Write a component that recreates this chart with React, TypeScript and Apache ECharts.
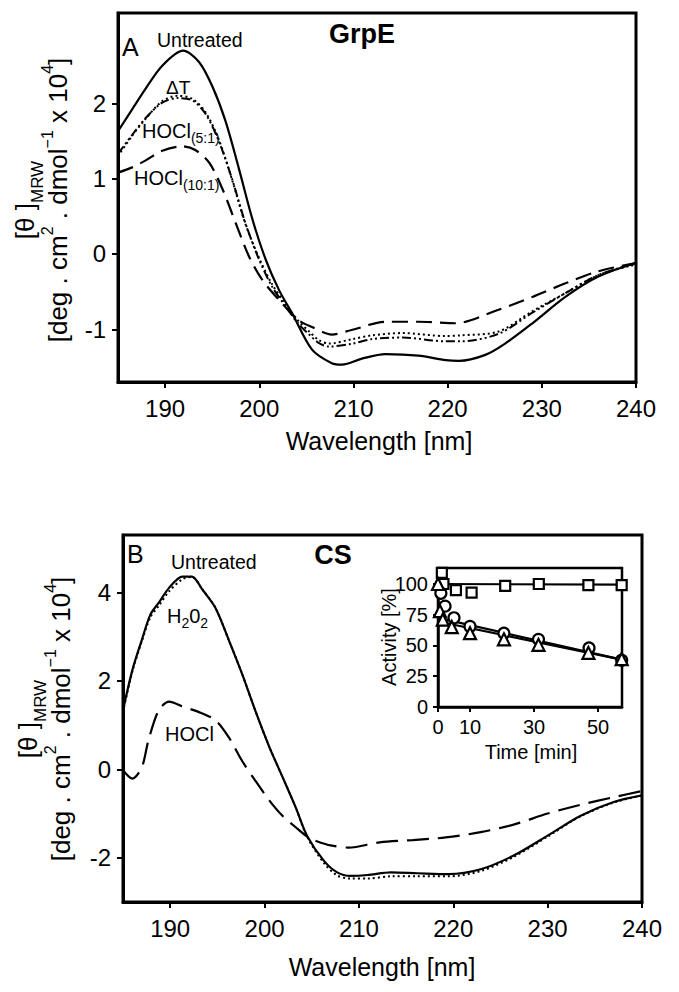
import React, { useEffect, useRef } from 'react';
import * as echarts from 'echarts';

const FONT = '"Liberation Sans", Arial, Helvetica, sans-serif';

// ---------- Panel A (GrpE) ----------
const aUntreatedX = [185, 186.5, 187.9, 189.7, 191.9, 193.6, 195.0, 196.4, 197.8, 199.3, 200.7, 202.1, 203.5, 205.6, 207.7, 208.8, 210.9, 213.4, 216.9, 219.8, 221.2, 224.0, 226.1, 229.0, 232.5, 236.0, 240];
const aUntreatedY = [1.63, 1.92, 2.19, 2.50, 2.70, 2.55, 2.23, 1.77, 1.15, 0.45, -0.08, -0.48, -0.79, -1.27, -1.45, -1.47, -1.39, -1.33, -1.35, -1.41, -1.42, -1.34, -1.19, -0.92, -0.57, -0.30, -0.12];

const aMidX = [185, 186.5, 187.9, 189.7, 191.3, 192.9, 194.3, 195.7, 197.1, 198.5, 199.9, 201.3, 202.7, 204.1, 205.3, 206.3, 207.4, 209.9, 212.0, 215.2, 219.8, 221.4, 225.4, 229.0, 232.5, 236.0, 240];
const aDeltaTY = [1.30, 1.57, 1.79, 2.03, 2.10, 2.06, 1.88, 1.52, 0.99, 0.41, -0.03, -0.39, -0.65, -0.88, -1.03, -1.14, -1.19, -1.13, -1.08, -1.05, -1.09, -1.08, -1.03, -0.76, -0.52, -0.28, -0.14];
const aHocl5Y = [1.33, 1.58, 1.80, 2.01, 2.07, 2.04, 1.86, 1.50, 1.00, 0.42, -0.05, -0.42, -0.68, -0.92, -1.07, -1.18, -1.23, -1.19, -1.13, -1.11, -1.16, -1.16, -1.06, -0.78, -0.52, -0.28, -0.12];

const aHocl10X = [185, 186.5, 187.9, 189.7, 191.8, 193.2, 194.7, 196.1, 197.5, 198.9, 200.3, 202.1, 204.2, 205.6, 207.7, 209.8, 213.4, 216.9, 220.8, 225.4, 229.0, 232.5, 236.0, 240];
const aHocl10Y = [1.08, 1.15, 1.24, 1.37, 1.43, 1.38, 1.21, 0.86, 0.41, -0.03, -0.34, -0.61, -0.88, -0.97, -1.07, -1.01, -0.90, -0.90, -0.92, -0.74, -0.57, -0.39, -0.23, -0.12];

// ---------- Panel B (CS) ----------
const bUntreatedX = [185, 186.0, 187.0, 187.9, 188.8, 189.9, 191.3, 192.3, 193.4, 194.8, 196.2, 197.6, 199.0, 200.5, 201.9, 203.3, 204.5, 206.3, 207.7, 209.1, 210.9, 213.4, 216.2, 219.5, 222.9, 226.4, 230.0, 233.5, 237.0, 240];
const bUntreatedY = [1.34, 2.25, 2.93, 3.50, 3.77, 4.11, 4.36, 4.36, 4.07, 3.65, 2.93, 2.17, 1.34, 0.51, -0.17, -0.86, -1.50, -2.07, -2.33, -2.41, -2.39, -2.33, -2.35, -2.37, -2.26, -1.95, -1.50, -1.05, -0.74, -0.59];
const bH2O2Y = [1.30, 2.22, 2.90, 3.44, 3.70, 4.03, 4.30, 4.35, 4.07, 3.65, 2.93, 2.17, 1.34, 0.51, -0.17, -0.86, -1.52, -2.12, -2.40, -2.47, -2.47, -2.42, -2.42, -2.42, -2.30, -1.98, -1.52, -1.06, -0.75, -0.59];

const bHoclX = [185, 186.0, 187.0, 187.7, 188.8, 189.9, 191.3, 193.0, 194.8, 196.2, 197.6, 199.0, 200.5, 201.9, 203.3, 204.7, 205.6, 207.0, 208.9, 212.2, 215.7, 219.2, 222.9, 226.4, 230.0, 233.5, 237.0, 240];
const bHoclY = [-0.02, -0.21, 0.05, 0.66, 1.34, 1.53, 1.42, 1.30, 1.11, 0.73, 0.20, -0.25, -0.70, -1.05, -1.31, -1.55, -1.63, -1.72, -1.77, -1.65, -1.60, -1.54, -1.42, -1.25, -1.00, -0.80, -0.63, -0.49];

// ---------- Inset (activity vs time) ----------
const insetSquareT = [1.2, 1.7, 5.6, 10.5, 21, 31.5, 47, 57.4];
const insetSquareV = [109, 100, 95, 93, 98.5, 100, 99, 99];
const insetCircleT = [0.9, 2.2, 5.0, 10, 20.6, 31.4, 47.2, 57.4];
const insetCircleV = [92.5, 82, 72.5, 65.5, 60, 55, 48, 38];
const insetTriangleT = [0, 0.6, 1.5, 4.3, 10, 20.6, 31.4, 47, 57.4];
const insetTriangleV = [100, 78, 71, 65, 60, 55, 50.5, 44, 39];
const insetFitT = [0, 57.4];
const insetSquareFit = [100, 99.5];
const insetCircleFit = [72.5, 38.5];
const insetTriangleFit = [69.5, 38.5];

// ---------- Ticks ----------
const wavelengthTicks = [190, 200, 210, 220, 230, 240];
const aYTicks = [-1, 0, 1, 2];
const bYTicks = [-2, 0, 2, 4];
const insetXTicks = [0, 10, 30, 50];
const insetYTicks = [0, 25, 50, 75, 100];

const zip = (xs: number[], ys: number[]) => xs.map((x, i) => [x, ys[i]]);

const BLACK = '#000';

function mainXAxis(gridIndex: number) {
  return {
    type: 'value', gridIndex, min: 185, max: 240,
    axisLine: { show: true, onZero: false, lineStyle: { color: BLACK, width: 3 } },
    axisTick: { show: true, inside: false, length: 6, lineStyle: { color: BLACK, width: 2 }, customValues: wavelengthTicks },
    axisLabel: { show: true, customValues: wavelengthTicks, color: BLACK, fontSize: 24, fontFamily: FONT, margin: 14 },
    splitLine: { show: false },
  };
}
function mainYAxis(gridIndex: number, min: number, max: number, ticks: number[]) {
  return {
    type: 'value', gridIndex, min, max,
    axisLine: { show: true, onZero: false, lineStyle: { color: BLACK, width: 3 } },
    axisTick: { show: true, inside: false, length: 6, lineStyle: { color: BLACK, width: 2 }, customValues: ticks },
    axisLabel: { show: true, customValues: ticks, color: BLACK, fontSize: 24, fontFamily: FONT, margin: 12 },
    splitLine: { show: false },
  };
}

function lineSeries(x: number, y: number, data: number[][], type: any, width = 2) {
  return {
    type: 'line', xAxisIndex: x, yAxisIndex: y, data, showSymbol: false, symbol: 'none',
    smooth: 0.3, clip: true,
    lineStyle: { color: BLACK, width, type },
    z: 3,
  };
}

const yNameRich = {
  m: { fontSize: 26, fontFamily: FONT, fill: BLACK, lineHeight: 33, align: 'center' },
  sub: { fontSize: 17, fontFamily: FONT, fill: BLACK, lineHeight: 33, padding: [26, 0, 0, 0], align: 'center' },
  sup: { fontSize: 16, fontFamily: FONT, fill: BLACK, lineHeight: 33, padding: [0, 0, 20, 0], align: 'center' },
};
const yNameText = '{m|[θ ]}{sub|MRW}\n{m|[deg . cm}{sup|2}{m| . dmol}{sup|−1}{m| x 10}{sup|4}{m|]}';

const labelRich = {
  m: { fontSize: 20, fontFamily: FONT, fill: BLACK, lineHeight: 24 },
  s: { fontSize: 14, fontFamily: FONT, fill: BLACK, lineHeight: 24, padding: [14, 0, 0, 0] },
};

function txt(x: number, y: number, text: string, size: number, opts: any = {}) {
  return {
    type: 'text', x, y, z: 100,
    style: {
      text, fill: BLACK, fontSize: size, fontFamily: FONT, fontWeight: opts.bold ? 'bold' : 'normal',
      align: opts.align || 'left', verticalAlign: 'middle', rich: opts.rich,
    },
    rotation: opts.rotation || 0,
  };
}

export default function App() {
  const ref = useRef<HTMLDivElement>(null);
  useEffect(() => {
    if (!ref.current) return;
    const chart = echarts.init(ref.current, undefined, { renderer: 'svg' });
    const option: any = {
      animation: false,
      backgroundColor: '#fff',
      textStyle: { fontFamily: FONT },
      grid: [
        { left: 118, top: 13, width: 518, height: 369, show: true, borderColor: BLACK, borderWidth: 3, backgroundColor: 'transparent' },
        { left: 123, top: 535, width: 519, height: 367, show: true, borderColor: BLACK, borderWidth: 3, backgroundColor: 'transparent' },
        { left: 438, top: 568, width: 184, height: 139, show: true, borderColor: BLACK, borderWidth: 2.5, backgroundColor: '#fff' },
      ],
      xAxis: [
        mainXAxis(0),
        mainXAxis(1),
        {
          type: 'value', gridIndex: 2, min: 0, max: 57.5,
          axisLine: { show: true, onZero: false, lineStyle: { color: BLACK, width: 2.5 } },
          axisTick: { show: true, inside: false, length: 5, lineStyle: { color: BLACK, width: 2 }, customValues: insetXTicks },
          axisLabel: { show: true, customValues: insetXTicks, color: BLACK, fontSize: 20, fontFamily: FONT, margin: 10 },
          splitLine: { show: false },
        },
      ],
      yAxis: [
        mainYAxis(0, -1.7, 3.2, aYTicks),
        mainYAxis(1, -3, 5.3, bYTicks),
        {
          type: 'value', gridIndex: 2, min: 0, max: 113,
          axisLine: { show: true, onZero: false, lineStyle: { color: BLACK, width: 2.5 } },
          axisTick: { show: true, inside: false, length: 5, lineStyle: { color: BLACK, width: 2 }, customValues: insetYTicks },
          axisLabel: { show: true, customValues: insetYTicks, color: BLACK, fontSize: 20, fontFamily: FONT, margin: 10 },
          splitLine: { show: false },
        },
      ],
      series: [
        lineSeries(0, 0, zip(aUntreatedX, aUntreatedY), 'solid', 2.2),
        lineSeries(0, 0, zip(aMidX, aDeltaTY), [2, 3], 2),
        lineSeries(0, 0, zip(aMidX, aHocl5Y), [9, 3, 2, 3, 2, 3], 2),
        lineSeries(0, 0, zip(aHocl10X, aHocl10Y), [16, 8], 2.2),
        lineSeries(1, 1, zip(bUntreatedX, bUntreatedY), 'solid', 2.2),
        lineSeries(1, 1, zip(bUntreatedX, bH2O2Y), [2, 3], 2),
        lineSeries(1, 1, zip(bHoclX, bHoclY), [22, 9], 2.2),
        { ...lineSeries(2, 2, zip(insetFitT, insetSquareFit), 'solid', 2.2), smooth: false },
        { ...lineSeries(2, 2, zip(insetFitT, insetCircleFit), 'solid', 2.2), smooth: false },
        { ...lineSeries(2, 2, zip(insetFitT, insetTriangleFit), 'solid', 2.2), smooth: false },
        {
          type: 'scatter', xAxisIndex: 2, yAxisIndex: 2, data: zip(insetSquareT, insetSquareV), symbol: 'rect', symbolSize: 10,
          itemStyle: { color: '#fff', borderColor: BLACK, borderWidth: 2.2, opacity: 1 }, z: 5, clip: false,
        },
        {
          type: 'scatter', xAxisIndex: 2, yAxisIndex: 2, data: zip(insetCircleT, insetCircleV), symbol: 'circle', symbolSize: 11,
          itemStyle: { color: '#fff', borderColor: BLACK, borderWidth: 2.2, opacity: 1 }, z: 5, clip: false,
        },
        {
          type: 'scatter', xAxisIndex: 2, yAxisIndex: 2, data: zip(insetTriangleT, insetTriangleV), symbol: 'triangle', symbolSize: 12,
          itemStyle: { color: '#fff', borderColor: BLACK, borderWidth: 2.2, opacity: 1 }, z: 6, clip: false,
        },
      ],
      graphic: [
        // Panel A texts
        txt(122, 47, 'A', 25),
        txt(157, 40, 'Untreated', 19.5),
        txt(362, 34, 'GrpE', 27, { bold: true, align: 'center' }),
        txt(166, 87, 'ΔT', 19),
        txt(142, 131, '{m|HOCl}{s|(5:1)}', 20, { rich: labelRich }),
        txt(134, 178, '{m|HOCl}{s|(10:1)}', 20, { rich: labelRich }),
        txt(379, 441, 'Wavelength [nm]', 25, { align: 'center' }),
        txt(41, 200, yNameText, 26, { align: 'center', rich: yNameRich, rotation: Math.PI / 2 }),
        // Panel B texts
        txt(127, 554, 'B', 25),
        txt(171, 562, 'Untreated', 19.5),
        txt(333, 555, 'CS', 27, { bold: true, align: 'center' }),
        txt(167, 616, '{m|H}{s|2}{m|0}{s|2}', 20, { rich: labelRich }),
        txt(165, 734, 'HOCl', 20),
        txt(382, 967, 'Wavelength [nm]', 25, { align: 'center' }),
        txt(44, 719, yNameText, 26, { align: 'center', rich: yNameRich, rotation: Math.PI / 2 }),
        // Inset texts
        txt(389, 637, 'Activity [%]', 20, { align: 'center', rotation: Math.PI / 2 }),
        txt(531, 752, 'Time [min]', 20, { align: 'center' }),
      ],
    };
    chart.setOption(option);
    return () => chart.dispose();
  }, []);
  return <div ref={ref} style={{ position: 'absolute', left: 0, top: 0, width: 679, height: 992 }} />;
}
